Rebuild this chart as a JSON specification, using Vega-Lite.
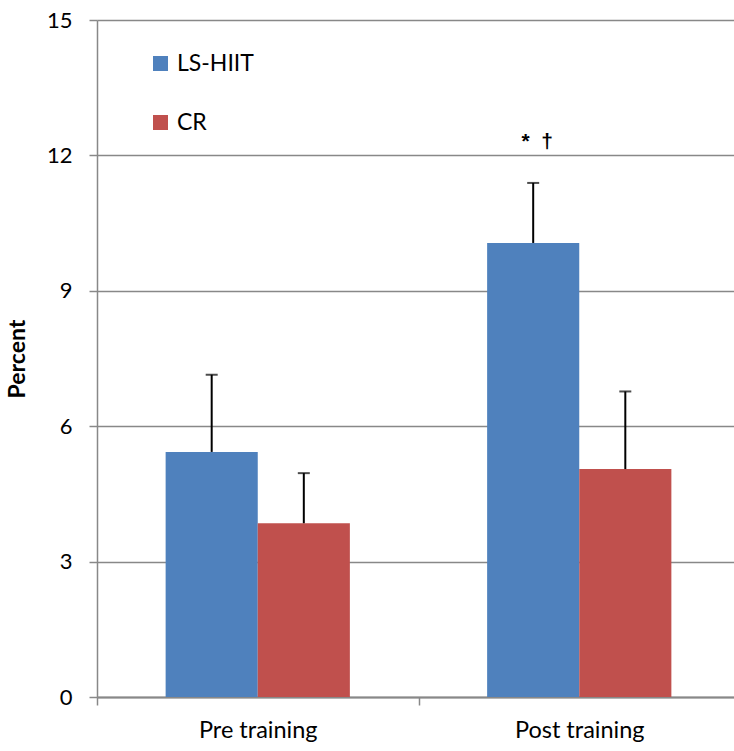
{
  "$schema": "https://vega.github.io/schema/vega-lite/v6.json",
  "width": 643,
  "height": 677,
  "autosize": {"type": "none"},
  "padding": {"left": 97, "top": 20, "right": 0, "bottom": 54},
  "background": "white",
  "config": {
    "view": {"stroke": null},
    "font": "Lato",
    "axis": {"labelFont": "Lato", "titleFont": "Lato"}
  },
  "data": {
    "values": [
      {"phase": "Pre training", "group": "LS-HIIT", "value": 5.43, "upper": 7.14, "note": ""},
      {"phase": "Pre training", "group": "CR", "value": 3.85, "upper": 4.96, "note": ""},
      {"phase": "Post training", "group": "LS-HIIT", "value": 10.06, "upper": 11.39, "note": "*\u00a0\u00a0†"},
      {"phase": "Post training", "group": "CR", "value": 5.05, "upper": 6.77, "note": ""}
    ]
  },
  "encoding": {
    "x": {
      "field": "phase",
      "type": "nominal",
      "sort": ["Pre training", "Post training"],
      "scale": {"paddingInner": 0, "paddingOuter": 0},
      "axis": {
        "title": null,
        "labelAngle": 0,
        "labelFontSize": 23.5,
        "labelColor": "#000000",
        "labelPadding": 13,
        "tickBand": "extent",
        "tickSize": 8,
        "tickColor": "#888888",
        "tickWidth": 1.5,
        "domainColor": "#888888",
        "domainWidth": 2,
        "grid": false
      }
    },
    "xOffset": {
      "field": "group",
      "type": "nominal",
      "sort": ["LS-HIIT", "CR"],
      "scale": {"paddingInner": 0, "paddingOuter": 0.745}
    }
  },
  "layer": [
    {
      "mark": {"type": "bar"},
      "encoding": {
        "y": {
          "field": "value",
          "type": "quantitative",
          "scale": {"domain": [0, 15], "nice": false},
          "axis": {
            "title": "Percent",
            "titleFontSize": 23,
            "titleFontWeight": "bold",
            "titleColor": "#000000",
            "titlePadding": 17,
            "values": [0, 3, 6, 9, 12, 15],
            "labelFontSize": 22,
            "labelColor": "#000000",
            "labelPadding": 17,
            "tickSize": 8,
            "tickColor": "#888888",
            "tickWidth": 1.5,
            "domainColor": "#888888",
            "domainWidth": 1.5,
            "grid": true,
            "gridColor": "#888888",
            "gridWidth": 1.5
          }
        },
        "color": {
          "field": "group",
          "type": "nominal",
          "sort": ["LS-HIIT", "CR"],
          "scale": {"domain": ["LS-HIIT", "CR"], "range": ["#4F81BD", "#C0504D"]},
          "legend": {
            "title": null,
            "orient": "none",
            "legendX": 52,
            "legendY": 32,
            "symbolType": "square",
            "symbolSize": 225,
            "symbolStrokeWidth": 0,
            "symbolOpacity": 1,
            "labelFontSize": 23,
            "labelColor": "#000000",
            "labelOffset": 5,
            "rowPadding": 35
          }
        }
      }
    },
    {
      "mark": {"type": "rule", "color": "#000000", "strokeWidth": 2},
      "encoding": {
        "y": {"field": "value", "type": "quantitative"},
        "y2": {"field": "upper"}
      }
    },
    {
      "mark": {"type": "tick", "color": "#000000", "thickness": 2, "size": 12, "orient": "horizontal"},
      "encoding": {
        "y": {"field": "upper", "type": "quantitative"}
      }
    },
    {
      "mark": {"type": "text", "font": "Liberation Sans", "fontSize": 21, "fontWeight": "bold", "color": "#000000", "baseline": "middle", "align": "center", "dx": 4},
      "encoding": {
        "y": {"datum": 12.3, "type": "quantitative"},
        "text": {"field": "note"}
      }
    }
  ]
}
